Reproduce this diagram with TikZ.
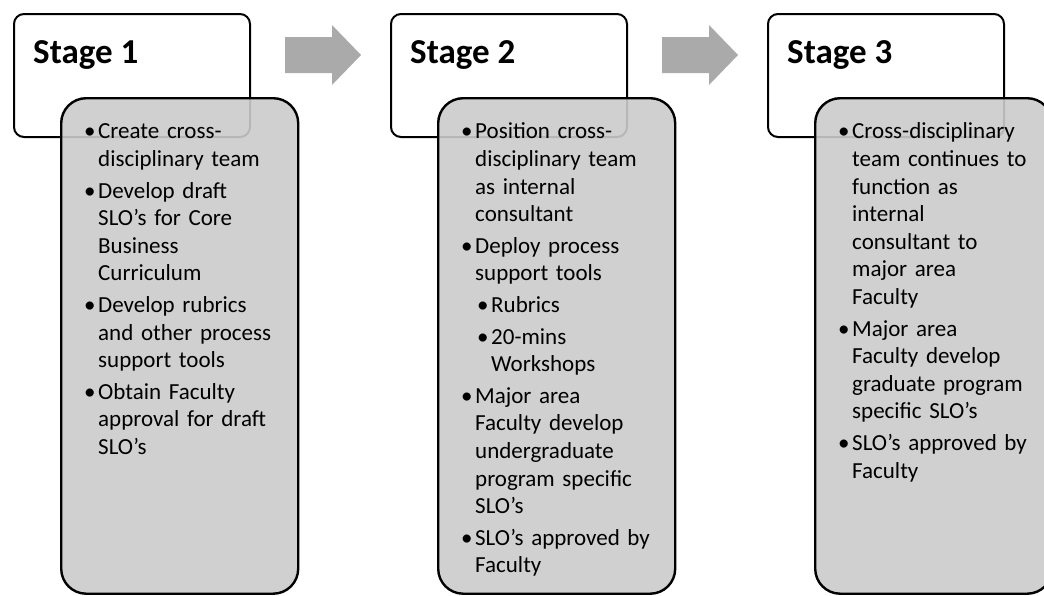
\documentclass[tikz,border=0pt]{standalone}
\usepackage{fontspec}
\setmainfont{Carlito}
\usetikzlibrary{positioning,calc}

\definecolor{bodygray}{RGB}{203,203,203}
\definecolor{arrowgray}{RGB}{170,170,170}

% bullet items with hanging indent
\newcommand{\bitem}[1]{\par\hangindent=12pt\hangafter=1\noindent\makebox[12pt][l]{\hspace*{-2pt}\textbullet}#1}
\newcommand{\sitem}[1]{\par\hangindent=28pt\hangafter=1\noindent\hspace*{16pt}\makebox[12pt][l]{\hspace*{-2pt}\textbullet}#1}

\begin{document}
\begin{tikzpicture}[x=1pt,y=-1pt,
		stagebox/.style={draw,line width=2pt,rounded corners=10pt,fill=white,
					minimum width=236pt,minimum height=123pt,inner sep=0pt},
		stagebody/.style={draw,line width=2.4pt,rounded corners=25pt,fill=bodygray,
					fill opacity=0.9,minimum width=237pt,minimum height=495.5pt,inner sep=0pt},
		stagetitle/.style={anchor=base west,inner sep=0pt,
					font=\bfseries\fontsize{35}{42}\selectfont},
		bodytext/.style={anchor=north west,inner sep=0pt,text width=200pt,
					font=\fontsize{23}{27.6}\selectfont,
					execute at begin node=\setlength{\parskip}{4pt}},
		stagearrow/.style={fill=arrowgray}]
		\useasboundingbox (0,0) rectangle (1044,595);
		\clip (0,0) rectangle (1044,595);

		% title boxes
		\node[stagebox,anchor=north west] (s1) at (13,13) {};
		\node[stagebox,right=139pt of s1] (s2) {};
		\node[stagebox,right=139pt of s2] (s3) {};

		\node[stagetitle] (t1) at ($(s1.north west)+(20,50)$) {Stage 1};
		\node[stagetitle] (t2) at ($(s2.north west)+(20,50)$) {Stage 2};
		\node[stagetitle] (t3) at ($(s3.north west)+(20,50)$) {Stage 3};

		% block arrows between the stages
		\fill[stagearrow] ($(s1.north east)+(34,24)$) -- ++(47,0) -- ++(0,-12)
			-- ++(29,30) -- ++(-29,30) -- ++(0,-12) -- ++(-47,0) -- cycle;
		\fill[stagearrow] ($(s2.north east)+(34,24)$) -- ++(47,0) -- ++(0,-12)
			-- ++(29,30) -- ++(-29,30) -- ++(0,-12) -- ++(-47,0) -- cycle;

		% gray bodies
		\node[stagebody,below right=84pt and 47pt of s1.north west] (b1) {};
		\node[stagebody,below right=84pt and 47pt of s2.north west] (b2) {};
		\node[stagebody,below right=84pt and 47pt of s3.north west] (b3) {};

		\node[bodytext] (l1) at ($(b1.north west)+(26,10)$) {%
			\bitem{\strut Create cross-\newline disciplinary team}
			\bitem{Develop draft\newline SLO’s for Core\newline Business\newline Curriculum}
			\bitem{Develop rubrics\newline and other process\newline support tools}
			\bitem{Obtain Faculty\newline approval for draft\newline SLO’s}\par};

		\node[bodytext] (l2) at ($(b2.north west)+(26,10)$) {%
			\bitem{\strut Position cross-\newline disciplinary team\newline as internal\newline consultant}
			\bitem{Deploy process\newline support tools}
			\sitem{Rubrics}
			\sitem{20-mins\newline Workshops}
			\bitem{Major area\newline Faculty develop\newline undergraduate\newline program specific\newline SLO’s}
			\bitem{SLO’s approved by\newline Faculty}\par};

		\node[bodytext] (l3) at ($(b3.north west)+(26,10)$) {%
			\bitem{\strut Cross-disciplinary\newline team continues to\newline function as\newline internal\newline consultant to\newline major area\newline Faculty}
			\bitem{Major area\newline Faculty develop\newline graduate program\newline specific SLO’s}
			\bitem{SLO’s approved by\newline Faculty}\par};
	\end{tikzpicture}
\end{document}
